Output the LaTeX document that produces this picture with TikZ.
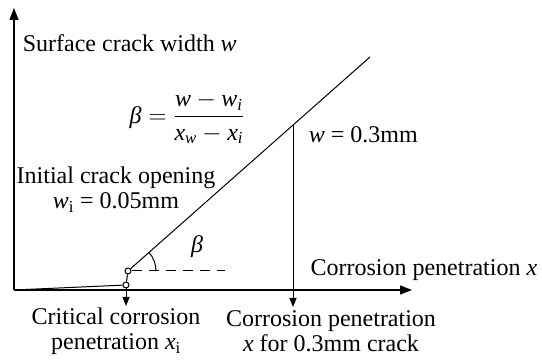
\documentclass[tikz,border=0pt]{standalone}
\usepackage{amsmath}
\usepackage{fontspec}
\setmainfont{Liberation Serif}
\usetikzlibrary{arrows.meta, positioning}

\newcommand{\vi}[1]{\textit{#1}}

\begin{document}
\begin{tikzpicture}[x=1pt, y=-1pt, line width=1pt,
                    font=\fontsize{24}{25}\selectfont,
                    dot/.style={circle, draw, fill=white, inner sep=0pt, minimum size=6pt},
                    axis/.style={line width=1.5pt, -{Triangle[length=12pt,width=9pt]}},
                    drop/.style={-{Triangle[length=9pt,width=7pt]}}]
    \useasboundingbox (0,0) rectangle (542,363);
    % points
    \coordinate (O) at (14,290);
    \coordinate (ytop) at (14,8);
    \coordinate (xend) at (412,290);
    \node[dot] (up) at (128,271) {};
    \coordinate (top) at (370,57);
    \coordinate (wpt) at (293,125);
    \coordinate (dashend) at (225,271);
    \coordinate (xi) at (126,306);
    \coordinate (xw) at (293,307);
    % labels
    \node[anchor=west] (ylab) at (19,43) {Surface crack width \vi{w}};
    \node (beta) at (187,118) {$\vi{β} = \dfrac{\vi{w} - \vi{w}_{\vi{i}}}{\vi{x}_{\vi{w}} - \vi{x}_{\vi{i}}}$};
    \node[align=center] (init) at (116,190) {Initial crack opening\\ \vi{w}\textsubscript{i} = 0.05mm};
    \node[anchor=west] (wlab) at (305,135) {\vi{w} = 0.3mm};
    \node[anchor=east] (xlab) at (541,270) {Corrosion penetration \vi{x}};
    \node[align=center] (crit) at (116,331) {Critical corrosion\\penetration \vi{x}\textsubscript{i}};
    \node[align=center] (cp) at (331,331) {Corrosion penetration\\\vi{x} for 0.3mm crack};
    \node (ang) at (197,247) {\vi{β}};
    % axes
    \draw[axis] (O) -- (ytop);
    \draw[axis] (O) -- (xend);
    % crack growth
    \node[dot] (lo) at (126,285) {};
    \draw (O) -- (lo);
    \draw (lo) -- (up);
    \draw (up) -- (top);
    \draw[dashed, dash pattern=on 10pt off 7pt] (up) -- (dashend);
    \draw ([shift={(28pt,0)}]up.center) arc[start angle=0, end angle=41.5, radius=28pt];
    \draw[drop] (lo) -- (xi);
    \draw[drop] (wpt) -- (xw);
\end{tikzpicture}
\end{document}
